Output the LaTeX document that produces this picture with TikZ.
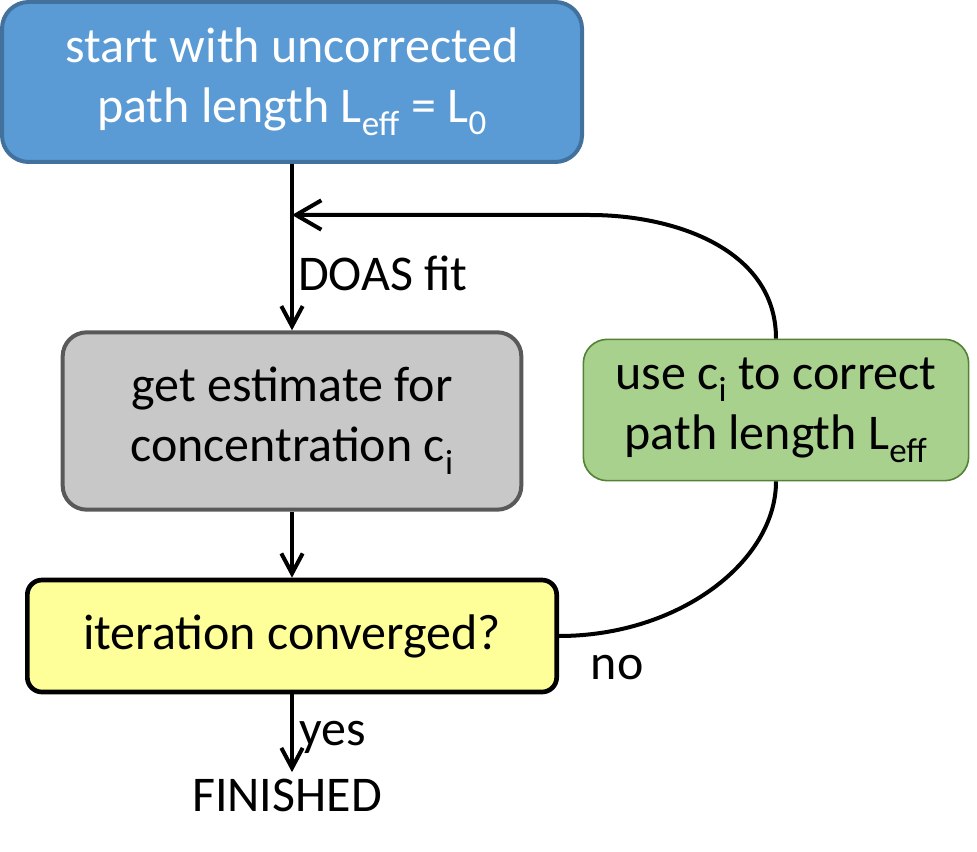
\documentclass[tikz,border=0pt]{standalone}
\usepackage{fontspec}
\setmainfont{Carlito}
\usetikzlibrary{arrows.meta}

\definecolor{startfill}{HTML}{5B9BD5}
\definecolor{startline}{HTML}{41719C}
\definecolor{estfill}{HTML}{C8C8C8}
\definecolor{estline}{HTML}{595959}
\definecolor{corrfill}{HTML}{A9D18E}
\definecolor{corrline}{HTML}{538135}
\definecolor{checkfill}{HTML}{FFFF99}

\tikzset{
    box/.style={align=center, inner sep=0pt, font=\fontsize{37.5}{45}\selectfont},
    startbox/.style={box, rounded corners=20pt, fill=startfill, draw=startline, line width=3pt,
        text=white, minimum width=435pt, minimum height=120pt},
    estbox/.style={box, rounded corners=18pt, fill=estfill, draw=estline, line width=3pt,
        minimum width=344pt, minimum height=133pt},
    corrbox/.style={box, rounded corners=18pt, fill=corrfill, draw=corrline, line width=1.2pt,
        minimum width=289pt, minimum height=106pt},
    checkbox/.style={box, rounded corners=11pt, fill=checkfill, draw=black, line width=3.5pt,
        minimum width=397pt, minimum height=84pt},
    plain/.style={font=\fontsize{37.5}{45}\selectfont}
}

\begin{document}
\begin{tikzpicture}[x=0.75pt, y=-0.75pt, line width=3pt,
        >={Straight Barb[length=15pt,width=16pt]}]
    \useasboundingbox (0,0) rectangle (977,852);

    \node[startbox] (start) at (292,82) {start with uncorrected\\path length L\textsubscript{eff} = L\textsubscript{0}};
    \node[estbox] (estimate) at (292,421) {get estimate for\\concentration c\textsubscript{i}};
    \node[corrbox] (correct) at (776,410) {use c\textsubscript{i} to correct\\path length L\textsubscript{eff}};
    \node[checkbox] (check) at (292,636) {iteration converged?};
    \node[plain] (finished) at (287,795) {FINISHED};
    \coordinate (back) at (292,215);

    \draw[->] (start) -- node[plain, right, pos=0.66, inner sep=3pt] {DOAS fit} (estimate);
    \draw[->] (estimate) -- (check);
    \draw[->] (check.south) -- node[plain, right, pos=0.55, inner sep=4pt] {yes} (check.south |- finished.north);

    % loop back when not converged
    \draw (check.east) .. controls +(120,0) and +(0,80) .. (correct.south)
        node[plain, pos=0.02, below right, inner sep=3pt, xshift=14pt, yshift=-10pt] {no};
    \draw[->, >={Straight Barb[length=19pt,width=22pt]}]
        (correct.north) .. controls +(0,-89) and +(85,0) .. (590,215) -- (back);

\end{tikzpicture}
\end{document}
